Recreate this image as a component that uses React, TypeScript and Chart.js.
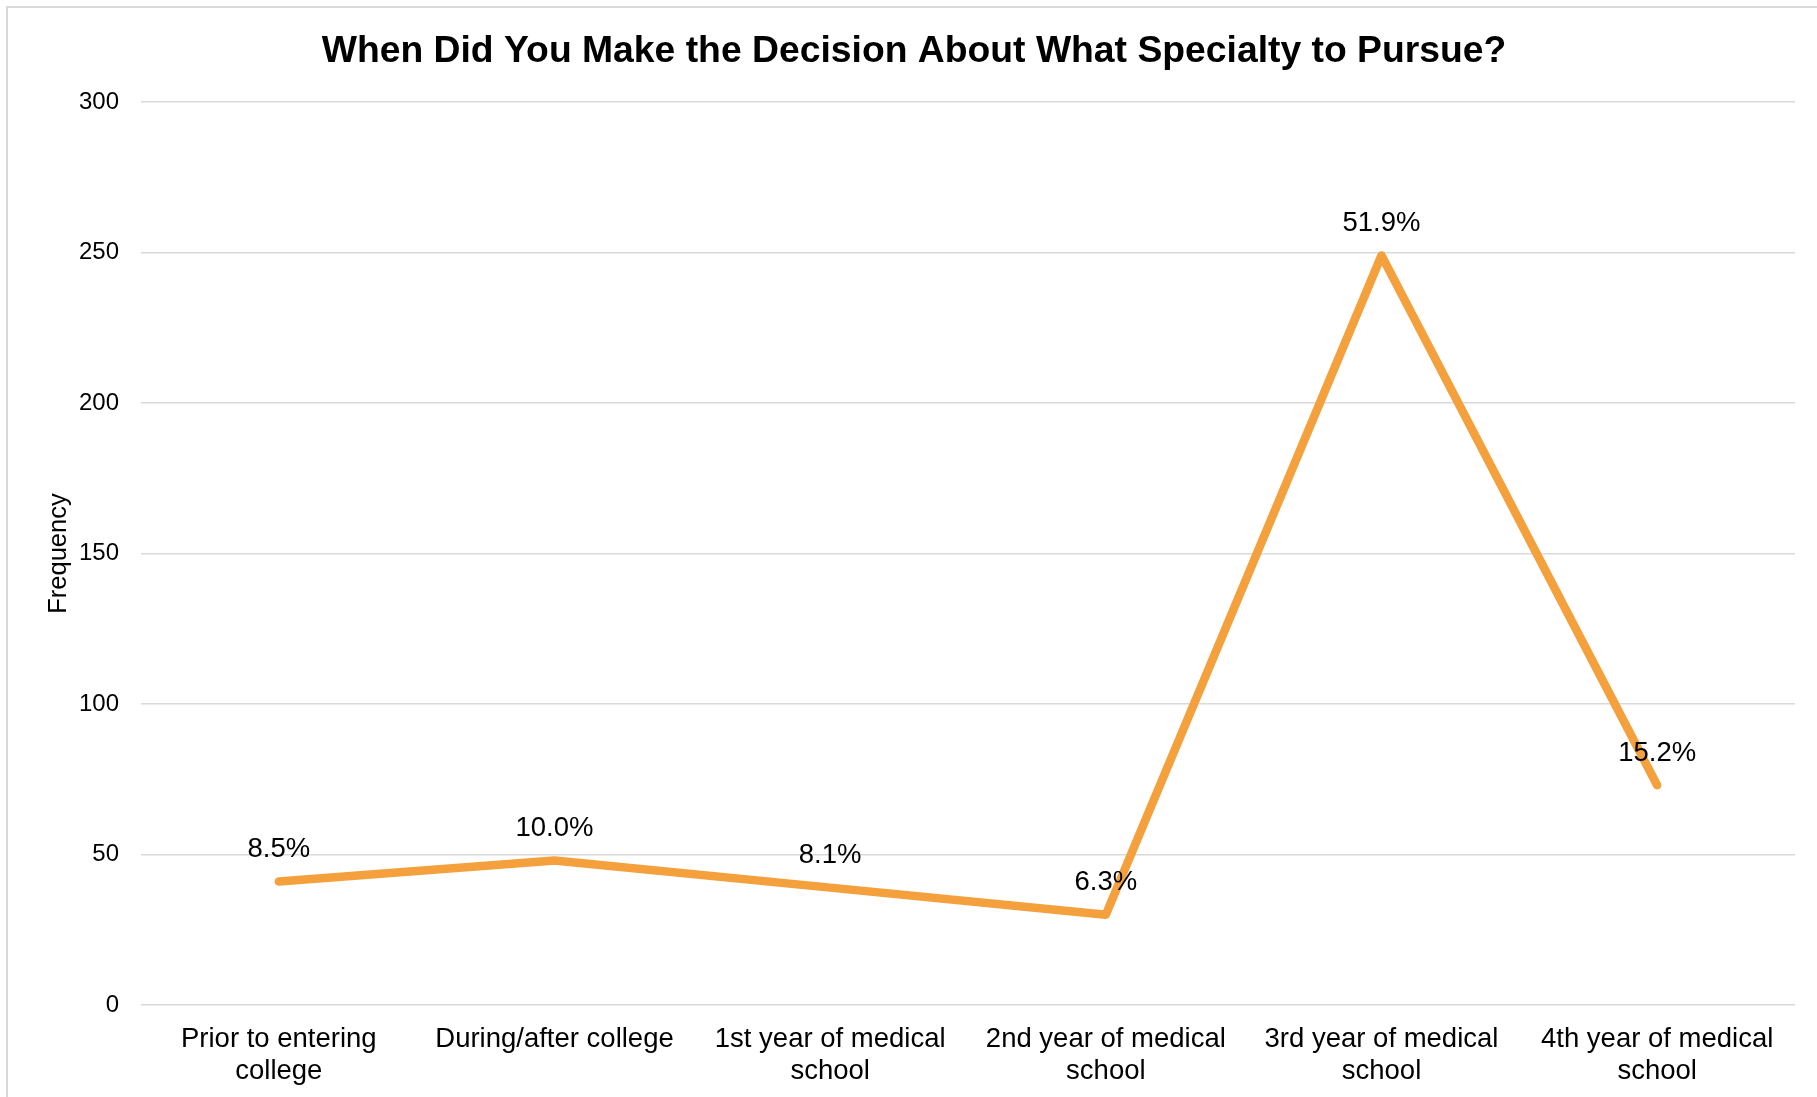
import React, { useEffect, useRef } from "react";
import { Chart, registerables } from "chart.js";

Chart.register(...registerables);

const TITLE = "When Did You Make the Decision About What Specialty to Pursue?";
const Y_AXIS_TITLE = "Frequency";
const CATEGORIES: string[][] = [
  ["Prior to entering", "college"],
  ["During/after college"],
  ["1st year of medical", "school"],
  ["2nd year of medical", "school"],
  ["3rd year of medical", "school"],
  ["4th year of medical", "school"],
];
const FREQUENCIES = [41, 48, 39, 30, 249, 73];
const PERCENT_LABELS = ["8.5%", "10.0%", "8.1%", "6.3%", "51.9%", "15.2%"];
const Y_TICKS = [0, 50, 100, 150, 200, 250, 300];

const FONT = "'Liberation Sans', Arial, Helvetica, sans-serif";
const LINE_COLOR = "#F4A03C";
const GRID_COLOR = "#d9d9d9";

// Frame, title and the percentage labels above each point
const decorations = {
  id: "decorations",
  beforeDraw(chart: any) {
    const ctx = chart.ctx;
    ctx.save();
    ctx.fillStyle = "#ffffff";
    ctx.fillRect(0, 0, chart.width, chart.height);
    ctx.strokeStyle = GRID_COLOR;
    ctx.lineWidth = 2;
    ctx.beginPath();
    ctx.moveTo(7, chart.height + 5);
    ctx.lineTo(7, 7);
    ctx.lineTo(chart.width + 5, 7);
    ctx.stroke();

    ctx.fillStyle = "#000000";
    ctx.font = `bold 37.3px ${FONT}`;
    ctx.textAlign = "center";
    ctx.textBaseline = "alphabetic";
    ctx.fillText(TITLE, 914, 62);
    ctx.restore();
  },
  afterDatasetsDraw(chart: any) {
    const ctx = chart.ctx;
    const meta = chart.getDatasetMeta(0);
    ctx.save();
    ctx.fillStyle = "#000000";
    ctx.font = `27.5px ${FONT}`;
    ctx.textAlign = "center";
    ctx.textBaseline = "middle";
    meta.data.forEach((pt: any, i: number) => {
      ctx.fillText(PERCENT_LABELS[i], pt.x, pt.y - 32);
    });
    ctx.restore();
  },
};

export default function App() {
  const canvasRef = useRef<HTMLCanvasElement | null>(null);

  useEffect(() => {
    if (!canvasRef.current) return;
    const chart = new Chart(canvasRef.current, {
      type: "line",
      data: {
        labels: CATEGORIES,
        datasets: [
          {
            data: FREQUENCIES,
            borderColor: LINE_COLOR,
            borderWidth: 8.5,
            borderCapStyle: "round",
            borderJoinStyle: "round",
            pointRadius: 0,
            pointHoverRadius: 0,
            tension: 0,
            fill: false,
          },
        ],
      },
      options: {
        responsive: false,
        animation: false,
        devicePixelRatio: 1,
        layout: { padding: { top: 102, right: 22, bottom: 0, left: 0 } },
        plugins: {
          legend: { display: false },
          title: { display: false },
          tooltip: { enabled: false },
        },
        scales: {
          x: {
            offset: true,
            grid: { display: false, drawTicks: false },
            border: { display: false },
            ticks: {
              color: "#000000",
              padding: 19,
              maxRotation: 0,
              autoSkip: false,
              font: { family: FONT, size: 27.5, lineHeight: 1.15 },
            },
            afterFit(scale: any) {
              scale.height = 92;
            },
          },
          y: {
            min: 0,
            max: 300,
            grid: { color: GRID_COLOR, lineWidth: 1.5, drawTicks: false },
            border: { display: false },
            afterBuildTicks(scale: any) {
              scale.ticks = Y_TICKS.map((v) => ({ value: v }));
            },
            ticks: {
              color: "#000000",
              padding: 22,
              font: { family: FONT, size: 24 },
            },
            title: {
              display: true,
              text: Y_AXIS_TITLE,
              color: "#000000",
              font: { family: FONT, size: 25.5 },
              padding: { top: 44, bottom: 0 },
            },
            afterFit(scale: any) {
              scale.width = 141;
            },
          },
        },
      },
      plugins: [decorations],
    });
    return () => chart.destroy();
  }, []);

  return (
    <div style={{ position: "fixed", left: 0, top: 0, width: 1817, height: 1097, background: "#fff" }}>
      <canvas ref={canvasRef} width={1817} height={1097} style={{ display: "block" }} />
    </div>
  );
}
